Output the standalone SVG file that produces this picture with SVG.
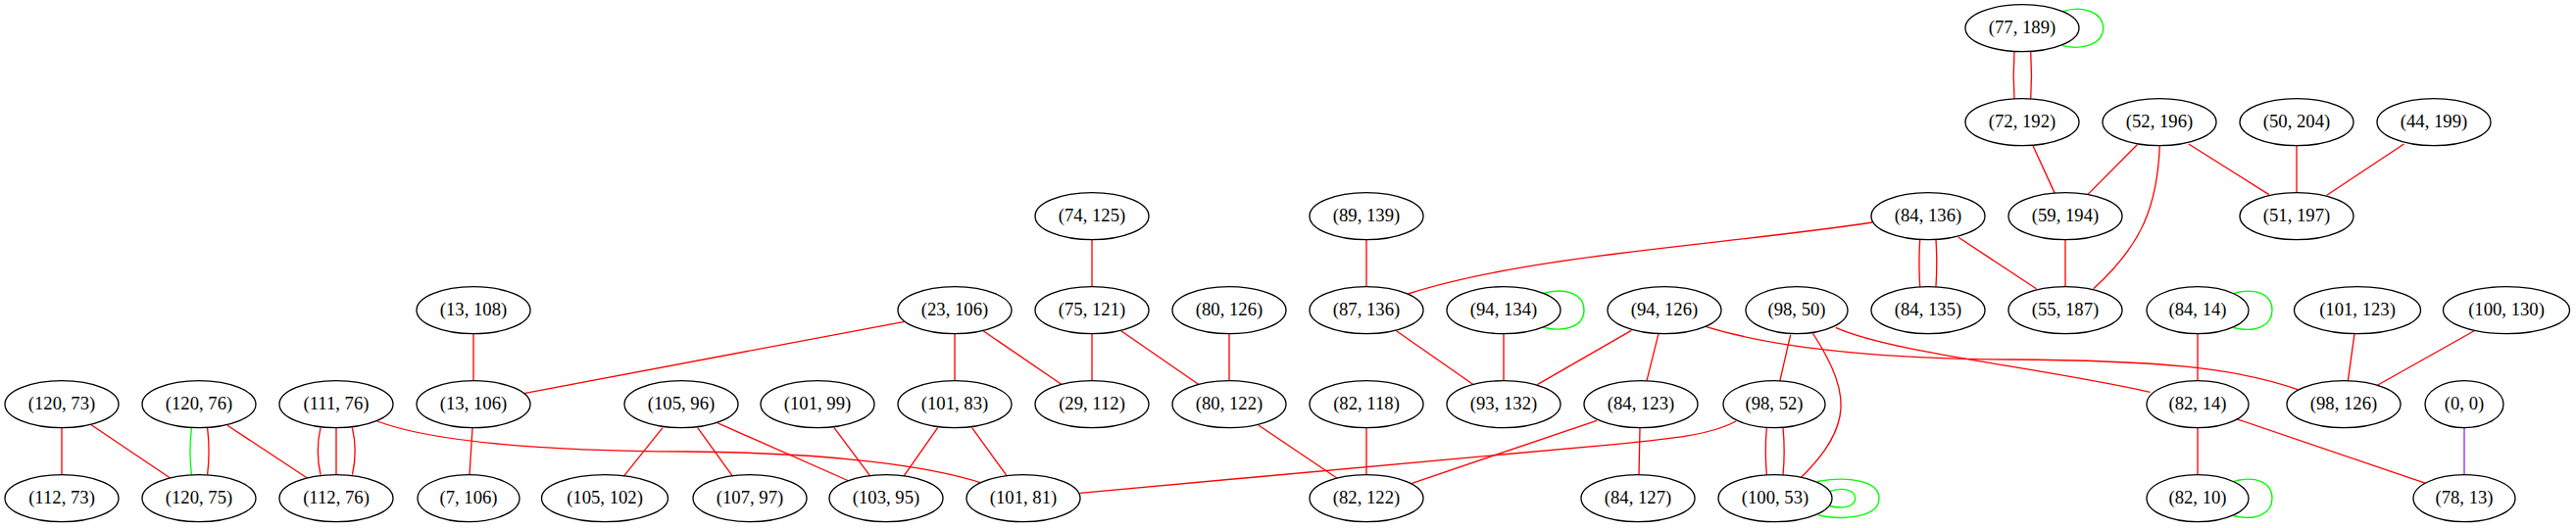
<svg xmlns="http://www.w3.org/2000/svg" width="2628" height="539" viewBox="0 0 2628 539">
<style>
.n ellipse{fill:#ffffff;stroke:#000000;stroke-width:1.33}
.n text{font-family:"Liberation Serif","Times New Roman",serif;font-size:18.67px;text-anchor:middle;fill:#000000}
.e path{fill:none;stroke:#ff0000;stroke-width:1.33}
.e path.g{stroke:#00ff00}
.e path.p{stroke:#a020f0}
</style>
<rect width="2628" height="539" fill="#ffffff"/>
<g id="edges" class="e">
<path d="M63,436.7 L63,484.7"/>
<path d="M92.4,433.3 L174,488.3"/>
<path class="g" d="M195.5,436.7 C193.5,452 193.5,469 195.5,484.7"/>
<path d="M211.6,436.7 C213.5,452 213.5,469 211.6,484.7"/>
<path d="M232,434.3 L313.8,488.3"/>
<path d="M327,436.7 C323.5,452 323.5,469 327,484.7"/>
<path d="M343,436.7 L343,484.7"/>
<path d="M359.4,436.7 C363,452 363,469 359.4,484.7"/>
<path d="M384.8,430 C430,447 520,460 700,461 C850,462 950,476 1002.5,493.3"/>
<path d="M483,340.7 L483,388.7"/>
<path d="M922.7,328.3 L534.4,401.7"/>
<path d="M482,436.7 L479,484.7"/>
<path d="M676,436.7 L636,486.7"/>
<path d="M711.7,436.7 L747.7,486.7"/>
<path d="M731.7,431.7 L866,491"/>
<path d="M851,436.7 L888.3,486.7"/>
<path d="M956.6,436.7 L921.6,486.7"/>
<path d="M991.6,436.7 L1027.8,486.7"/>
<path d="M974,340.7 L974,388.7"/>
<path d="M1003,337.7 L1083.5,392.7"/>
<path d="M1114,244.7 L1114,292.7"/>
<path d="M1114,340.7 L1114,388.7"/>
<path d="M1143.7,337.7 L1224,393.3"/>
<path d="M1254,340.7 L1254,388.7"/>
<path d="M1283.8,434 L1364.2,488.3"/>
<path d="M1394,436.7 L1394,484.7"/>
<path d="M1394,244.7 L1394,292.7"/>
<path d="M1910,227 C1760,250 1560,260 1436.5,300"/>
<path d="M1424.5,337.7 L1503.3,392.7"/>
<path d="M1534,340.7 L1534,388.7"/>
<path class="g" d="M1574,299.5 C1597,293 1616,300 1616,316.7 C1616,333 1597,340 1574,334"/>
<path d="M1664.3,337.3 L1568.3,392.7"/>
<path d="M1692,340.7 L1680,388.7"/>
<path d="M1740,333.3 C1800,352 1900,366 2050,367 C2200,368 2280,375 2344,397.6"/>
<path d="M1629,429.3 L1440.5,493.3"/>
<path d="M1673,436.7 L1672,484.7"/>
<path d="M1771,430 C1745,444 1705,448 1650,453.3 L1101.8,503.3"/>
<path d="M1826.7,341.7 L1815.7,389.3"/>
<path d="M1849.3,340 C1870,372 1882,400 1877,425 C1872,450 1855,470 1836.7,488.3"/>
<path d="M1872.7,334.3 C1930,360 2080,375 2193.4,400.3"/>
<path d="M1802.3,436.7 C1801,452 1801,469 1802.3,484.7"/>
<path d="M1819,436.7 C1820.5,452 1820.5,469 1819,484.7"/>
<path class="g" d="M1866.7,501.7 C1880,497 1892.7,500 1892.7,508.7 C1892.7,517 1880,520 1866.7,516.5"/>
<path class="g" d="M1854,491.5 C1885,486 1917,490 1917,508.7 C1917,527 1885,532 1855,526"/>
<path class="g" d="M2104.3,11.7 C2126,5 2145.7,13 2145.7,28.7 C2145.7,44 2126,52 2104.3,46.7"/>
<path d="M2055,52.7 C2054,68 2054,85 2055,100.7"/>
<path d="M2071.7,52.7 C2072.7,68 2072.7,85 2071.7,100.7"/>
<path d="M2074,148.8 L2096.4,197.6"/>
<path d="M2180.3,147.8 L2129.8,198.6"/>
<path d="M2203.3,148.5 C2201,210 2185,250 2135.7,294.8"/>
<path d="M2232.8,147 L2314.8,198.6"/>
<path d="M2343,148.7 L2343,196.7"/>
<path d="M2452.5,147 L2373.8,199.3"/>
<path d="M1958.7,244.7 C1957.7,260 1957.7,277 1958.7,292.7"/>
<path d="M1975,244.7 C1976,260 1976,277 1975,292.7"/>
<path d="M1998,242.3 L2077.4,294.8"/>
<path d="M2107,244.7 L2107,292.7"/>
<path class="g" d="M2278.7,299.7 C2300,293 2318,300 2318,316.7 C2318,333 2300,340 2278.7,334.5"/>
<path d="M2242,340.7 L2242,388.7"/>
<path d="M2242,436.7 L2242,484.7"/>
<path class="g" d="M2278.7,491.7 C2300,485 2318,492 2318,508.7 C2318,525 2300,532 2278.7,526.5"/>
<path d="M2282,427.8 L2474,493.1"/>
<path d="M2402,340.7 L2395.4,388.7"/>
<path d="M2524.6,337.5 L2425,393.5"/>
<path class="p" d="M2514,436.7 L2514,484.7"/>
</g>
<g id="n1" class="n"><ellipse cx="2063" cy="28.7" rx="58" ry="24"/><text x="2063" y="33.7">(77, 189)</text></g>
<g id="n2" class="n"><ellipse cx="2063" cy="124.7" rx="58" ry="24"/><text x="2063" y="129.7">(72, 192)</text></g>
<g id="n3" class="n"><ellipse cx="2203" cy="124.7" rx="58" ry="24"/><text x="2203" y="129.7">(52, 196)</text></g>
<g id="n4" class="n"><ellipse cx="2343" cy="124.7" rx="58" ry="24"/><text x="2343" y="129.7">(50, 204)</text></g>
<g id="n5" class="n"><ellipse cx="2483" cy="124.7" rx="58" ry="24"/><text x="2483" y="129.7">(44, 199)</text></g>
<g id="n6" class="n"><ellipse cx="1114" cy="220.7" rx="58" ry="24"/><text x="1114" y="225.7">(74, 125)</text></g>
<g id="n7" class="n"><ellipse cx="1394" cy="220.7" rx="58" ry="24"/><text x="1394" y="225.7">(89, 139)</text></g>
<g id="n8" class="n"><ellipse cx="1967" cy="220.7" rx="58" ry="24"/><text x="1967" y="225.7">(84, 136)</text></g>
<g id="n9" class="n"><ellipse cx="2107" cy="220.7" rx="58" ry="24"/><text x="2107" y="225.7">(59, 194)</text></g>
<g id="n10" class="n"><ellipse cx="2343" cy="220.7" rx="58" ry="24"/><text x="2343" y="225.7">(51, 197)</text></g>
<g id="n11" class="n"><ellipse cx="483" cy="316.7" rx="58" ry="24"/><text x="483" y="321.7">(13, 108)</text></g>
<g id="n12" class="n"><ellipse cx="974" cy="316.7" rx="58" ry="24"/><text x="974" y="321.7">(23, 106)</text></g>
<g id="n13" class="n"><ellipse cx="1114" cy="316.7" rx="58" ry="24"/><text x="1114" y="321.7">(75, 121)</text></g>
<g id="n14" class="n"><ellipse cx="1254" cy="316.7" rx="58" ry="24"/><text x="1254" y="321.7">(80, 126)</text></g>
<g id="n15" class="n"><ellipse cx="1394" cy="316.7" rx="58" ry="24"/><text x="1394" y="321.7">(87, 136)</text></g>
<g id="n16" class="n"><ellipse cx="1534" cy="316.7" rx="58" ry="24"/><text x="1534" y="321.7">(94, 134)</text></g>
<g id="n17" class="n"><ellipse cx="1698" cy="316.7" rx="58" ry="24"/><text x="1698" y="321.7">(94, 126)</text></g>
<g id="n18" class="n"><ellipse cx="1833" cy="316.7" rx="52" ry="24"/><text x="1833" y="321.7">(98, 50)</text></g>
<g id="n19" class="n"><ellipse cx="1967" cy="316.7" rx="58" ry="24"/><text x="1967" y="321.7">(84, 135)</text></g>
<g id="n20" class="n"><ellipse cx="2107" cy="316.7" rx="58" ry="24"/><text x="2107" y="321.7">(55, 187)</text></g>
<g id="n21" class="n"><ellipse cx="2242" cy="316.7" rx="52" ry="24"/><text x="2242" y="321.7">(84, 14)</text></g>
<g id="n22" class="n"><ellipse cx="2405" cy="316.7" rx="64.5" ry="24"/><text x="2405" y="321.7">(101, 123)</text></g>
<g id="n23" class="n"><ellipse cx="2557" cy="316.7" rx="64.5" ry="24"/><text x="2557" y="321.7">(100, 130)</text></g>
<g id="n24" class="n"><ellipse cx="63" cy="412.7" rx="58" ry="24"/><text x="63" y="417.7">(120, 73)</text></g>
<g id="n25" class="n"><ellipse cx="203" cy="412.7" rx="58" ry="24"/><text x="203" y="417.7">(120, 76)</text></g>
<g id="n26" class="n"><ellipse cx="343" cy="412.7" rx="58" ry="24"/><text x="343" y="417.7">(111, 76)</text></g>
<g id="n27" class="n"><ellipse cx="483" cy="412.7" rx="58" ry="24"/><text x="483" y="417.7">(13, 106)</text></g>
<g id="n28" class="n"><ellipse cx="695" cy="412.7" rx="58" ry="24"/><text x="695" y="417.7">(105, 96)</text></g>
<g id="n29" class="n"><ellipse cx="834" cy="412.7" rx="58" ry="24"/><text x="834" y="417.7">(101, 99)</text></g>
<g id="n30" class="n"><ellipse cx="974" cy="412.7" rx="58" ry="24"/><text x="974" y="417.7">(101, 83)</text></g>
<g id="n31" class="n"><ellipse cx="1114" cy="412.7" rx="58" ry="24"/><text x="1114" y="417.7">(29, 112)</text></g>
<g id="n32" class="n"><ellipse cx="1254" cy="412.7" rx="58" ry="24"/><text x="1254" y="417.7">(80, 122)</text></g>
<g id="n33" class="n"><ellipse cx="1394" cy="412.7" rx="58" ry="24"/><text x="1394" y="417.7">(82, 118)</text></g>
<g id="n34" class="n"><ellipse cx="1534" cy="412.7" rx="58" ry="24"/><text x="1534" y="417.7">(93, 132)</text></g>
<g id="n35" class="n"><ellipse cx="1674" cy="412.7" rx="58" ry="24"/><text x="1674" y="417.7">(84, 123)</text></g>
<g id="n36" class="n"><ellipse cx="1810" cy="412.7" rx="52" ry="24"/><text x="1810" y="417.7">(98, 52)</text></g>
<g id="n37" class="n"><ellipse cx="2242" cy="412.7" rx="52" ry="24"/><text x="2242" y="417.7">(82, 14)</text></g>
<g id="n38" class="n"><ellipse cx="2391" cy="412.7" rx="58" ry="24"/><text x="2391" y="417.7">(98, 126)</text></g>
<g id="n39" class="n"><ellipse cx="2514" cy="412.7" rx="40" ry="24"/><text x="2514" y="417.7">(0, 0)</text></g>
<g id="n40" class="n"><ellipse cx="63" cy="508.7" rx="58" ry="24"/><text x="63" y="513.7">(112, 73)</text></g>
<g id="n41" class="n"><ellipse cx="203" cy="508.7" rx="58" ry="24"/><text x="203" y="513.7">(120, 75)</text></g>
<g id="n42" class="n"><ellipse cx="343" cy="508.7" rx="58" ry="24"/><text x="343" y="513.7">(112, 76)</text></g>
<g id="n43" class="n"><ellipse cx="478" cy="508.7" rx="52" ry="24"/><text x="478" y="513.7">(7, 106)</text></g>
<g id="n44" class="n"><ellipse cx="617" cy="508.7" rx="64.5" ry="24"/><text x="617" y="513.7">(105, 102)</text></g>
<g id="n45" class="n"><ellipse cx="765" cy="508.7" rx="58" ry="24"/><text x="765" y="513.7">(107, 97)</text></g>
<g id="n46" class="n"><ellipse cx="904" cy="508.7" rx="58" ry="24"/><text x="904" y="513.7">(103, 95)</text></g>
<g id="n47" class="n"><ellipse cx="1044" cy="508.7" rx="58" ry="24"/><text x="1044" y="513.7">(101, 81)</text></g>
<g id="n48" class="n"><ellipse cx="1394" cy="508.7" rx="58" ry="24"/><text x="1394" y="513.7">(82, 122)</text></g>
<g id="n49" class="n"><ellipse cx="1671" cy="508.7" rx="58" ry="24"/><text x="1671" y="513.7">(84, 127)</text></g>
<g id="n50" class="n"><ellipse cx="1811" cy="508.7" rx="58" ry="24"/><text x="1811" y="513.7">(100, 53)</text></g>
<g id="n51" class="n"><ellipse cx="2242" cy="508.7" rx="52" ry="24"/><text x="2242" y="513.7">(82, 10)</text></g>
<g id="n52" class="n"><ellipse cx="2514" cy="508.7" rx="52" ry="24"/><text x="2514" y="513.7">(78, 13)</text></g>
</svg>
